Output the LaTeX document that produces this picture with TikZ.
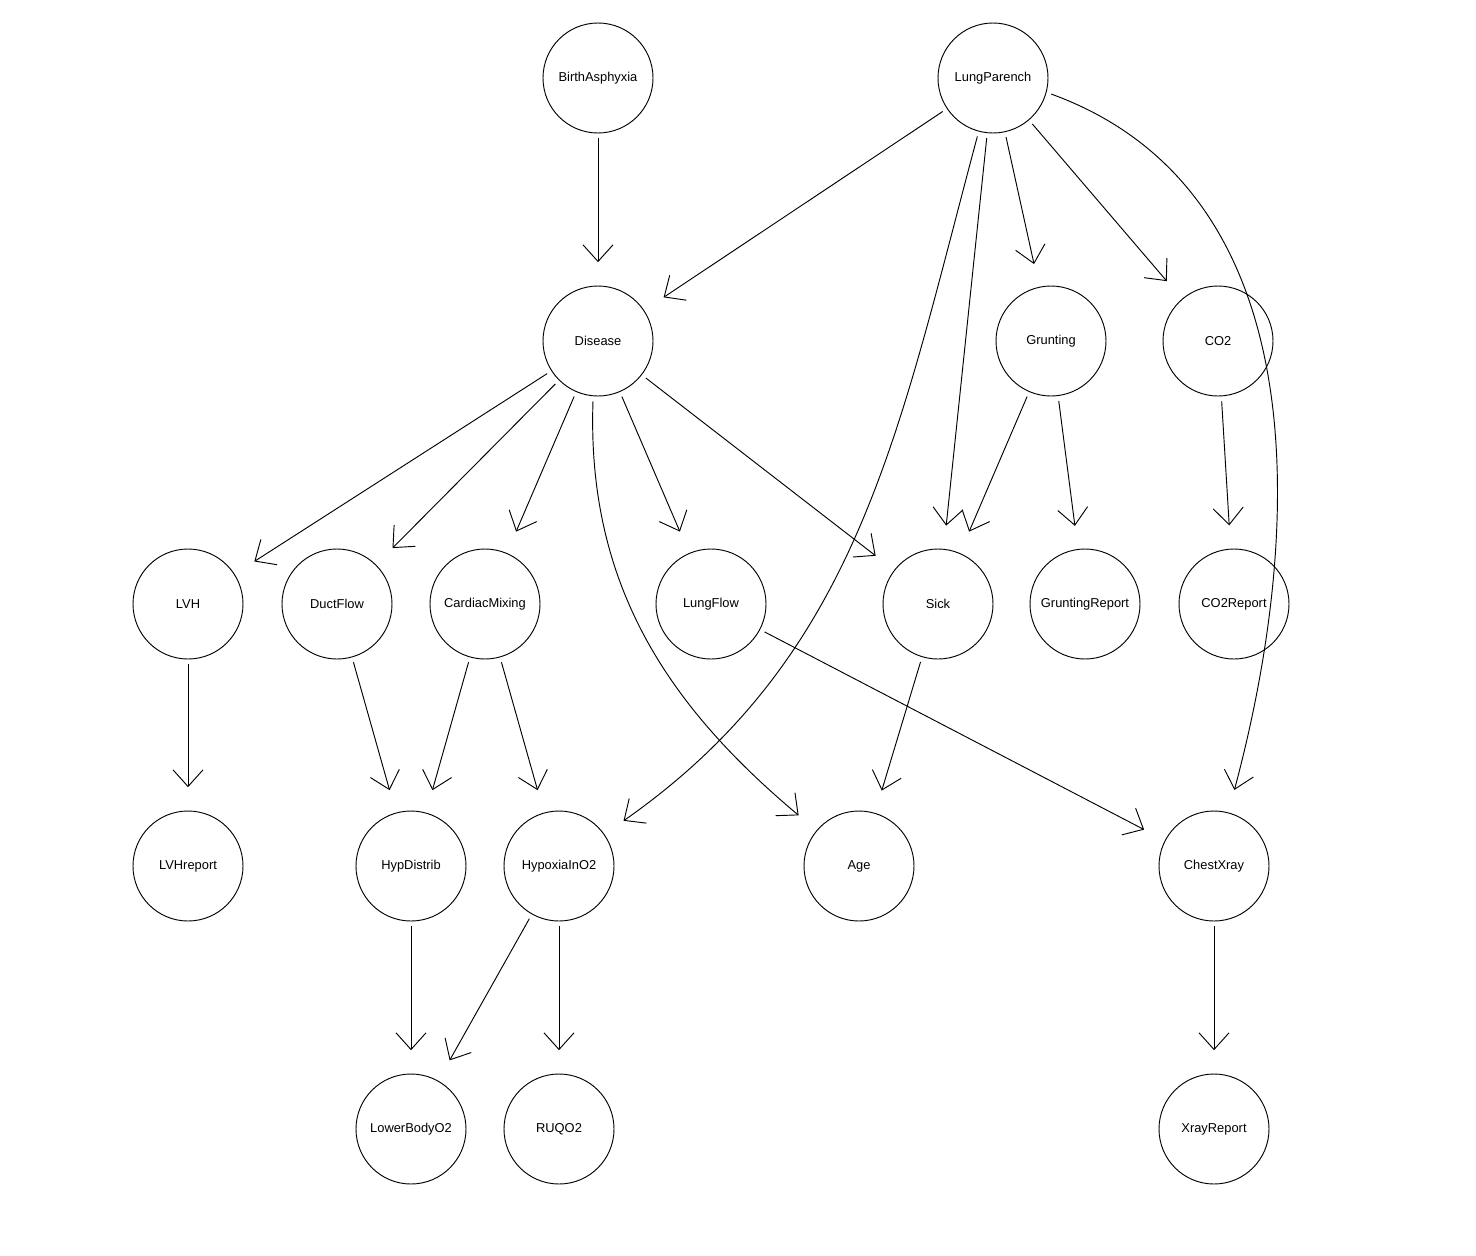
\documentclass[tikz,border=0pt]{standalone}
\usepackage{fontspec}
\setmainfont{Liberation Sans}
\usetikzlibrary{arrows.meta}
\begin{document}
\begin{tikzpicture}[x=0.03cm, y=-0.03cm, circle, minimum size = 3.3cm, inner sep=0pt,
    var/.style={draw, line width=0.8pt, font=\fontsize{11}{13}\selectfont},
    link/.style={-{Straight Barb[length=5mm, width=9mm, line width=0.8pt]}, line width=0.8pt, shorten >= 0.7cm, shorten <= 0.15cm}]
      \useasboundingbox (0,0) rectangle (1476,1256);
      \node[var] (BirthAsphyxia) at (598,78) {BirthAsphyxia};
      \node[var] (LungParench) at (993,78) {LungParench};
      \node[var] (Disease) at (598,341) {Disease};
      \node[var] (Grunting) at (1051,341) {Grunting};
      \node[var] (CO2) at (1218,341) {CO2};
      \node[var] (LVH) at (188,604) {LVH};
      \node[var] (DuctFlow) at (337,604) {DuctFlow};
      \node[var] (CardiacMixing) at (485,604) {CardiacMixing};
      \node[var] (LungFlow) at (711,604) {LungFlow};
      \node[var] (Sick) at (938,604) {Sick};
      \node[var] (GruntingReport) at (1085,604) {GruntingReport};
      \node[var] (CO2Report) at (1234,604) {CO2Report};
      \node[var] (LVHreport) at (188,866) {LVHreport};
      \node[var] (HypDistrib) at (411,866) {HypDistrib};
      \node[var] (HypoxiaInO2) at (559,866) {HypoxiaInO2};
      \node[var] (Age) at (859,866) {Age};
      \node[var] (ChestXray) at (1214,866) {ChestXray};
      \node[var] (LowerBodyO2) at (411,1129) {LowerBodyO2};
      \node[var] (RUQO2) at (559,1129) {RUQO2};
      \node[var] (XrayReport) at (1214,1129) {XrayReport};

      \draw[link] (BirthAsphyxia) -- (Disease);
      \draw[link] (LungParench) -- (Disease);
      \draw[link] (LungParench.-105) to[out=-105, in=35] (HypoxiaInO2);
      \draw[link] (LungParench) -- (Sick);
      \draw[link] (LungParench) -- (Grunting);
      \draw[link] (LungParench) -- (CO2);
      \draw[link] (LungParench.-15) to[out=-20, in=75] (ChestXray);
      \draw[link] (Disease) -- (LVH);
      \draw[link] (Disease) -- (DuctFlow);
      \draw[link] (Disease) -- (CardiacMixing);
      \draw[link] (Disease) -- (LungFlow);
      \draw[link] (Disease) -- (Sick);
      \draw[link] (Disease.-95) to[out=-92, in=140] (Age);
      \draw[link] (Grunting) -- (Sick);
      \draw[link] (Grunting) -- (GruntingReport);
      \draw[link] (CO2) -- (CO2Report);
      \draw[link] (LVH) -- (LVHreport);
      \draw[link] (DuctFlow) -- (HypDistrib);
      \draw[link] (CardiacMixing) -- (HypDistrib);
      \draw[link] (CardiacMixing) -- (HypoxiaInO2);
      \draw[link] (Sick) -- (Age);
      \draw[link] (LungFlow) -- (ChestXray);
      \draw[link] (ChestXray) -- (XrayReport);
      \draw[link] (HypDistrib) -- (LowerBodyO2);
      \draw[link] (HypoxiaInO2) -- (LowerBodyO2);
      \draw[link] (HypoxiaInO2) -- (RUQO2);
    \end{tikzpicture}
\end{document}
